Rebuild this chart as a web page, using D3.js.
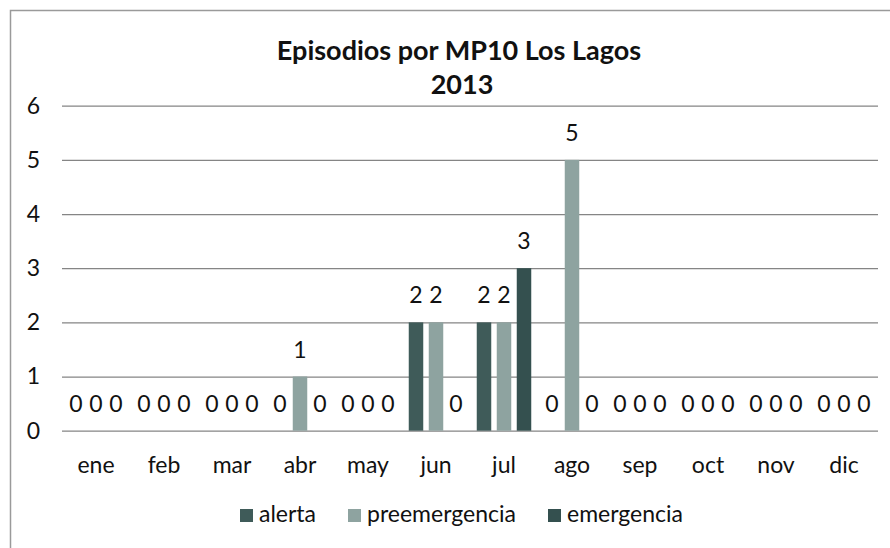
<!DOCTYPE html>
<html>
<head>
<meta charset="utf-8">
<script src="https://cdn.jsdelivr.net/npm/d3@7"></script>
<style>
  body { margin: 0; background: #fff; }
  svg text { font-family: Lato, 'Open Sans', sans-serif; fill: #111; }
</style>
</head>
<body>
<svg class="EpisodiosChart" width="890" height="548"></svg>
<script>
const months = ['ene', 'feb', 'mar', 'abr', 'may', 'jun', 'jul', 'ago', 'sep', 'oct', 'nov', 'dic'];
const seriesNames = ['alerta', 'preemergencia', 'emergencia'];
const alerta = [0, 0, 0, 0, 0, 2, 2, 0, 0, 0, 0, 0];
const preemergencia = [0, 0, 0, 1, 0, 2, 2, 5, 0, 0, 0, 0];
const emergencia = [0, 0, 0, 0, 0, 0, 3, 0, 0, 0, 0, 0];
const yTicks = [0, 1, 2, 3, 4, 5, 6];
const colors = ['#3f5b59', '#8ea3a0', '#34504f'];

const svg = d3.select('.EpisodiosChart');
const values = [alerta, preemergencia, emergencia];

// flatten into one row per bar
const rows = [];
months.forEach((m, i) => {
  seriesNames.forEach((s, j) => {
    rows.push({ month: m, series: s, value: values[j][i], idx: j });
  });
});

const x = d3.scaleBand().domain(months).range([62, 878]);
const xs = d3.scaleBand().domain(seriesNames).range([4, x.bandwidth() - 4]);
const y = d3.scaleLinear().domain([0, 6]).range([430.7, 105.7]);
const barW = 14.5;

// chart border (top + left)
svg.append('path')
  .attr('d', 'M10.5,548 L10.5,10.5 L890,10.5')
  .attr('fill', 'none')
  .attr('stroke', '#9a9a9a')
  .attr('stroke-width', 1.5);

// title
svg.append('text')
  .attr('x', 459)
  .attr('y', 60)
  .attr('text-anchor', 'middle')
  .attr('font-size', 27)
  .attr('font-weight', 'bold')
  .text('Episodios por MP10 Los Lagos');
svg.append('text')
  .attr('x', 462)
  .attr('y', 94)
  .attr('text-anchor', 'middle')
  .attr('font-size', 27)
  .attr('font-weight', 'bold')
  .text('2013');

// gridlines
const yAxis = svg.append('g')
  .attr('transform', 'translate(62,0)')
  .call(d3.axisLeft(y).tickValues(yTicks).tickSize(-816).tickPadding(22).tickFormat(d3.format('d')));
yAxis.select('.domain').remove();
yAxis.selectAll('line')
  .attr('stroke', '#858585')
  .attr('stroke-width', 1.3);
yAxis.selectAll('text')
  .attr('font-size', 23)
  .attr('font-family', 'Lato, sans-serif')
  .attr('fill', '#111');

// bars
svg.append('g')
  .selectAll('rect')
  .data(rows.filter(d => d.value > 0))
  .enter()
  .append('rect')
  .attr('x', d => x(d.month) + xs(d.series) + xs.bandwidth() / 2 - barW / 2)
  .attr('y', d => y(d.value))
  .attr('width', barW)
  .attr('height', d => y(0) - y(d.value))
  .attr('fill', d => colors[d.idx]);

// value labels
svg.append('g')
  .selectAll('text')
  .data(rows)
  .enter()
  .append('text')
  .attr('x', d => x(d.month) + xs(d.series) + xs.bandwidth() / 2)
  .attr('y', d => y(d.value) - 19)
  .attr('text-anchor', 'middle')
  .attr('font-size', 23)
  .text(d => d.value);

// month axis
const xAxis = svg.append('g')
  .attr('transform', 'translate(0,' + y(0) + ')')
  .call(d3.axisBottom(x).tickSize(0).tickPadding(26));
xAxis.select('.domain').remove();
xAxis.selectAll('text')
  .attr('font-size', 23)
  .attr('font-family', 'Lato, sans-serif')
  .attr('fill', '#111');

// legend
const legendX = [240, 348, 548];
const legend = svg.append('g')
  .selectAll('g')
  .data(seriesNames)
  .enter()
  .append('g')
  .attr('transform', (d, i) => 'translate(' + legendX[i] + ',0)');
legend.append('rect')
  .attr('y', 509)
  .attr('width', 13)
  .attr('height', 13)
  .attr('fill', (d, i) => colors[i]);
legend.append('text')
  .attr('x', 19)
  .attr('y', 522)
  .attr('font-size', 23)
  .text(d => d);
</script>
</body>
</html>
